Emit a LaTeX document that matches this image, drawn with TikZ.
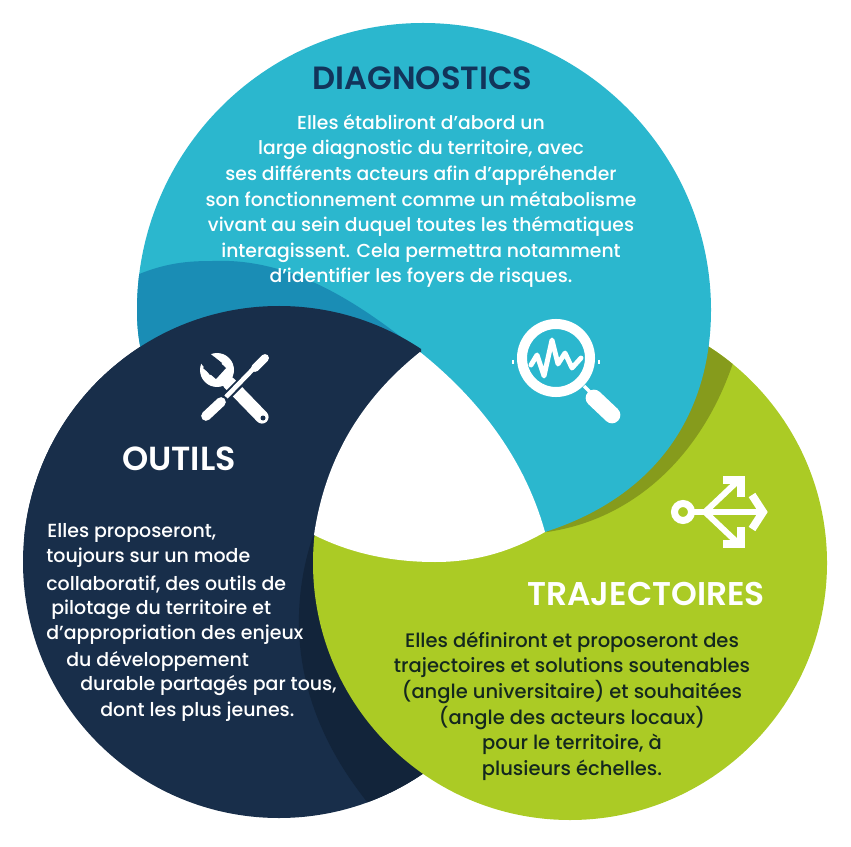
\documentclass[tikz,border=0pt]{standalone}
\usepackage{fontspec}
\setmainfont{Poppins}
\newfontfamily\medfont{Poppins Medium}
\newfontfamily\semifont{Poppins SemiBold}
\usetikzlibrary{positioning}
\definecolor{cyanc}{HTML}{2BB7CE}
\definecolor{midblue}{HTML}{1A8DB5}
\definecolor{navyc}{HTML}{182E4A}
\definecolor{darknavy}{HTML}{12243A}
\definecolor{greenc}{HTML}{ABCB25}
\definecolor{olivec}{HTML}{869B1C}
\definecolor{titleblue}{HTML}{12345A}
\definecolor{darkgreen}{HTML}{14281E}
\tikzset{
  title/.style={font=\fontsize{#1}{20}\semifont, inner sep=0pt},
  bodytext/.style={font=\fontsize{#1}{14.6}\medfont, align=center, inner sep=0pt},
  toolline/.style={color=white, line cap=round},
}
\begin{document}
\begin{tikzpicture}[x=0.02cm,y=-0.02cm]
    \useasboundingbox (0,0) rectangle (851,847);
    % navy circle with its darker band
    \fill[navyc] (279,562) circle (256);
    \begin{scope}
      \clip (279,562) circle (256);
      \fill[darknavy] (315,530) .. controls (290,600) and (285,700) .. (368,803) -- (500,800) -- (500,530) -- cycle;
    \end{scope}
    % green circle with its olive band
    \fill[greenc] (570,563) circle (257);
    \begin{scope}
      \clip (570,563) circle (257);
      \fill[olivec] (733,363) .. controls (700,460) and (630,520) .. (547,532) -- (500,400) -- (700,300) -- cycle;
    \end{scope}
    % top shape
    \begin{scope}
      \path[fill=cyanc] (423,23) .. controls (581,23) and (711,152) .. (711,310)
        .. controls (711,410) and (660,495) .. (545,532)
        -- (314,535) -- (141,350) .. controls (138,337) and (137,324) .. (137,310)
        .. controls (137,152) and (265,23) .. (423,23) -- cycle;
      \clip (423,23) .. controls (265,23) and (137,152) .. (137,310) .. controls (137,324) and (138,337) .. (141,350) -- (430,400) -- (423,23) -- cycle;
      \fill[midblue] (130,278) .. controls (165,262) and (190,261) .. (213,261) .. controls (285,258) and (350,295) .. (420,352) -- (420,420) -- (130,420) -- cycle;
    \end{scope}
    % navy again, above the top shape
    \begin{scope}
      \clip (0,0) -- (421,0) -- (421,352) -- (314,536) -- (0,536) -- cycle;
      \fill[navyc] (279,562) circle (256);
    \end{scope}
    % hole in the middle
    \fill[white] (420,352) .. controls (480,400) and (525,460) .. (545,532)
      .. controls (510,552) and (475,562) .. (435,562)
      .. controls (390,562) and (350,553) .. (314,535)
      .. controls (325,460) and (360,400) .. (420,352) -- cycle;

    % titles
    \node[title=18.3, color=titleblue] (diag) at (422.5,78) {DIAGNOSTICS};
    \node[title=19, color=white] (outils) at (179,459) {OUTILS};
    \node[title=18.7, color=white] (traj) at (646,594) {TRAJECTOIRES};

    % texts
    \node[bodytext=10.7, color=white] (diagtext) at (421,201) {Elles établiront d’abord un\\
      large diagnostic du territoire, avec\\
      ses différents acteurs afin d’appréhender\\
      son fonctionnement comme un métabolisme\\
      vivant au sein duquel toutes les thématiques\\
      interagissent. Cela permettra notamment\\
      d’identifier les foyers de risques.};
    \node[bodytext=11.1, color=darkgreen] (trajtext) at (572,706) {Elles définiront et proposeront des\\
      trajectoires et solutions soutenables\\
      (angle universitaire) et souhaitées\\
      (angle des acteurs locaux)\\
      pour le territoire, à\\
      plusieurs échelles.};
    \foreach \px/\py/\line/\nm in {47/533/{Elles proposeront,}/a, 46/558/{toujours sur un mode}/b,
        46/584/{collaboratif, des outils de}/c, 51/610/{pilotage du territoire et}/d,
        46/635/{d’appropriation des enjeux}/e, 66/661/{du développement}/f,
        80/686/{durable partagés par tous,}/g, 100/712/{dont les plus jeunes.}/h}
      \node[bodytext=10.8, color=white, anchor=west] (outils\nm) at (\px,\py) {\line};

    % tools icon
    \draw[toolline, line width=7.5pt] (262,417) -- (229,383);
    \fill[white] (217,370) circle (17);
    \fill[navyc] (214,357) -- (203,368) -- (216,379) -- (226,368) -- cycle;
    \fill[navyc] (197,358) -- (208,352) -- (222,363) -- (210,375) -- cycle;
    \fill[navyc] (263,418) circle (2.5);
    \draw[color=navyc, line width=5pt] (220,403) -- (262,361);
    \draw[toolline, line cap=butt, line width=2.6pt] (226,397) -- (258,364);
    \draw[toolline, line width=5.5pt] (206,416) -- (221,402);
    \draw[toolline, line width=4.5pt] (255,368) -- (265,358);

    % magnifier icon
    \draw[color=white, line width=5.7pt] (556,358) circle (34);
    \draw[color=white, line width=2pt] (584,386) -- (592,394);
    \draw[toolline, line width=9.5pt] (594,398) -- (612,415);
    \draw[toolline, line width=2.8pt, line join=round] (531,365) -- (537,355) -- (544,376) -- (552,340) -- (558,364) -- (565,353) -- (572,368) -- (581,358);
    \draw[color=white, line width=0.6pt] (513,360) -- (513,364);
    \draw[color=white, line width=0.6pt] (599,360) -- (599,364);

    % arrows icon
    \draw[color=white, line width=4pt] (683,512) circle (8.5);
    \draw[color=white, line width=3.4pt] (693,512) -- (762,512);
    \draw[color=white, line width=3.4pt] (705,512) -- (741,478);
    \draw[color=white, line width=3.4pt] (705,512) -- (741,546);
    \draw[color=white, line width=4.5pt, miter limit=4] (723,480) -- (741,480) -- (741,497);
    \draw[color=white, line width=4.5pt, miter limit=4] (723,544) -- (741,544) -- (741,527);
    \draw[color=white, line width=4.5pt, miter limit=4] (752,495) -- (763,512) -- (752,529);
  \end{tikzpicture}
\end{document}
